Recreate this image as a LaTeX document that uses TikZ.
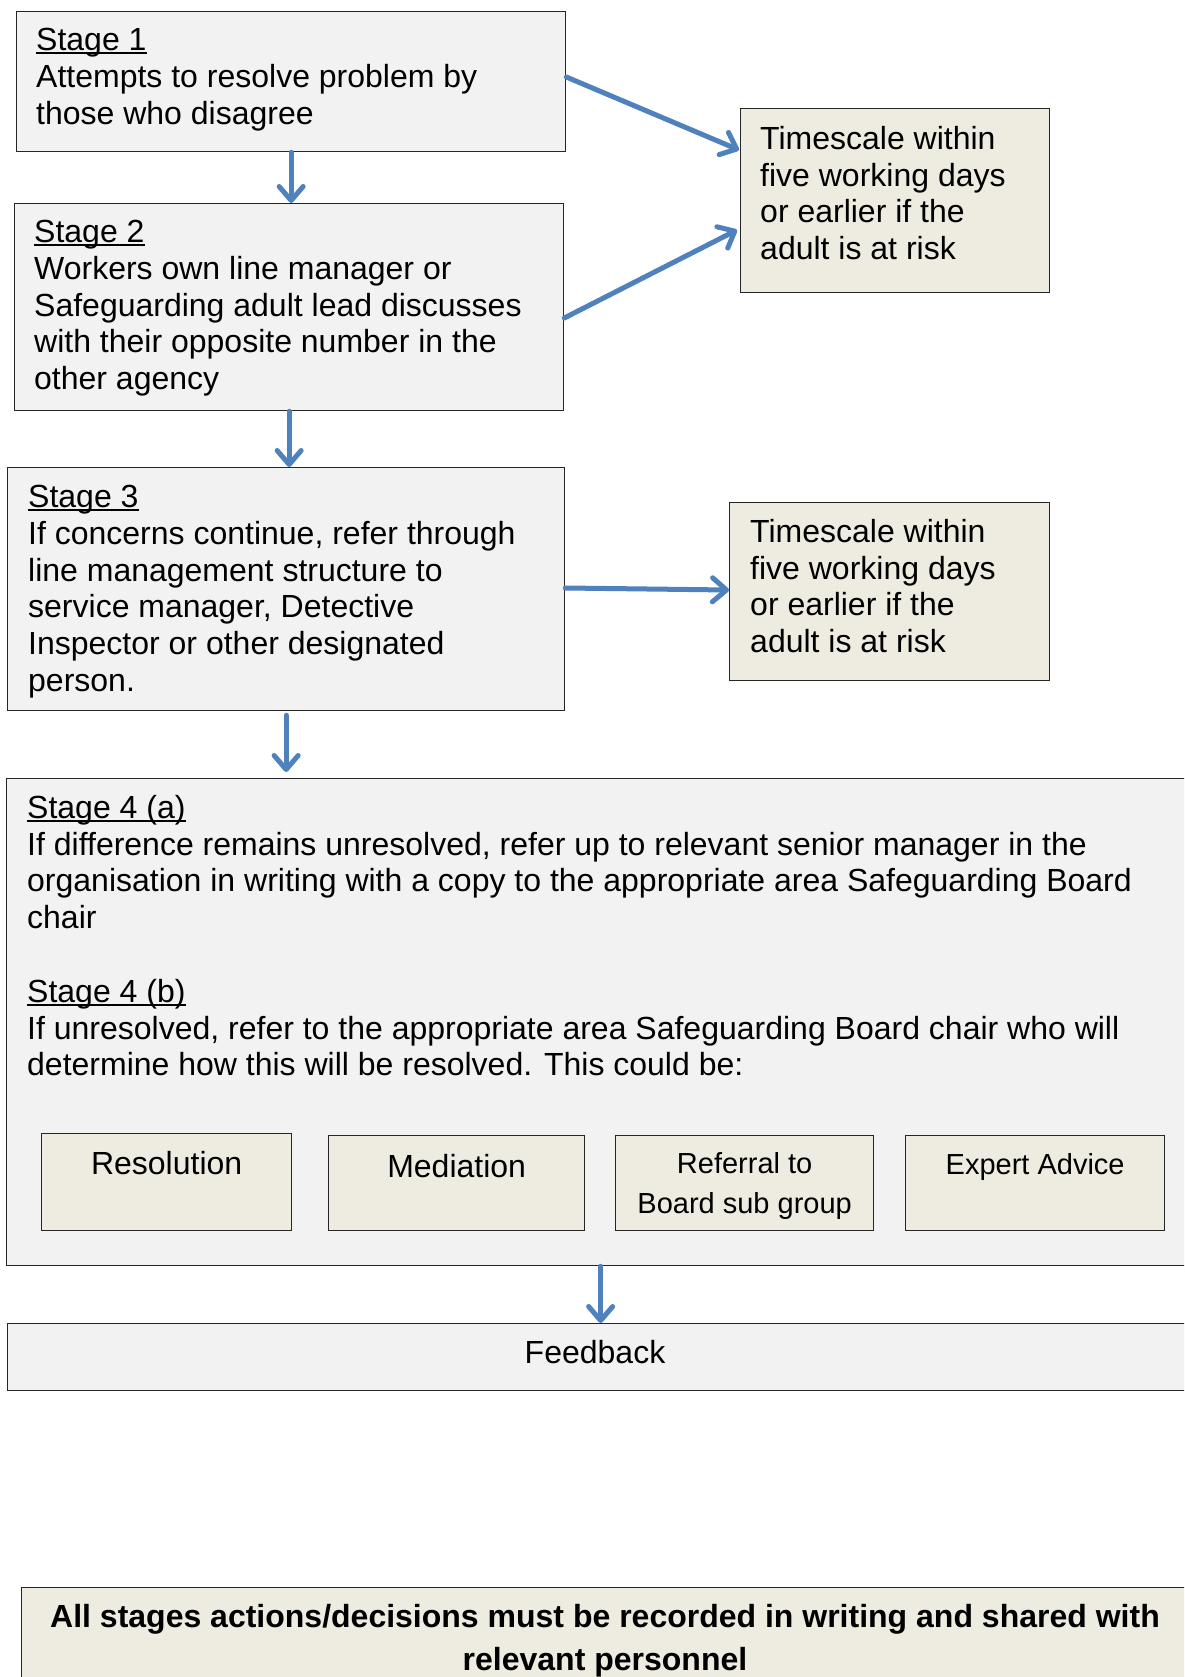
\documentclass[tikz,border=0pt]{standalone}
\usepackage{fontspec}
\setmainfont{Liberation Sans}
\usetikzlibrary{arrows.meta}
\definecolor{boxgray}{HTML}{F2F2F2}
\definecolor{tanfill}{HTML}{EEECE1}
\definecolor{arrblue}{HTML}{4F81BD}
\newcommand\myul[1]{\setbox0=\hbox{#1}\rlap{\rule[-3.5pt]{\wd0}{1.6pt}}#1}
\begin{document}
\begin{tikzpicture}[x=1pt,y=-1pt,
  box/.style={draw=black!85, line width=1.3pt, fill=boxgray, anchor=north west, inner sep=0pt},
  tanbox/.style={box, fill=tanfill},
  txt/.style={anchor=north west, inner sep=0pt, align=left, font=\fontsize{32}{36.8}\selectfont},
  small/.style={inner sep=0pt, align=center, font=\fontsize{29}{40}\selectfont},
  mid/.style={inner sep=0pt, align=center, font=\fontsize{32}{36.8}\selectfont},
  arr/.style={draw=arrblue, line width=5pt, line cap=round, -{Straight Barb[length=14pt,width=24pt,round]}},
]
\useasboundingbox (0,0) rectangle (1184,1677);
\clip (0,0) rectangle (1184,1677);
\fill[white] (0,0) rectangle (1184,1677);

% boxes
\node[box, minimum width=549pt, minimum height=140pt] (s1) at (16,11) {};
\node[box, minimum width=549pt, minimum height=207pt] (s2) at (14,203) {};
\node[box, minimum width=557pt, minimum height=243pt] (s3) at (7,467) {};
\node[tanbox, minimum width=309pt, minimum height=184pt] (t1) at (740,108) {};
\node[tanbox, minimum width=320pt, minimum height=178pt] (t2) at (729,502) {};
\node[box, minimum width=1188pt, minimum height=487pt] (s4) at (6,778) {};
\node[tanbox, minimum width=250pt, minimum height=97pt] (r1) at (41,1133) {};
\node[tanbox, minimum width=256pt, minimum height=95pt] (r2) at (328,1135) {};
\node[tanbox, minimum width=258pt, minimum height=95pt] (r3) at (615,1135) {};
\node[tanbox, minimum width=259pt, minimum height=95pt] (r4) at (905,1135) {};
\node[box, minimum width=1186pt, minimum height=67pt] (fb) at (7,1323) {};
\node[tanbox, minimum width=1168pt, minimum height=120pt] (note) at (21,1587) {};

% texts
\node[txt] (s1t) at (36,28) {\myul{Stage 1}\\Attempts to resolve problem by\\those who disagree};
\node[txt] (s2t) at (34,220) {\myul{Stage 2}\\Workers own line manager or\\Safeguarding adult lead discusses\\with their opposite number in the\\other agency};
\node[txt] (s3t) at (28,485) {\myul{Stage 3}\\If concerns continue, refer through\\line management structure to\\service manager, Detective\\Inspector or other designated\\person.};
\node[txt] (t1t) at (760,126) {Timescale within\\five working days\\or earlier if the\\adult is at risk};
\node[txt] (t2t) at (750,519) {Timescale within\\five working days\\or earlier if the\\adult is at risk};
\node[txt] (s4t) at (27,795) {\myul{Stage 4 (a)}\\If difference remains unresolved, refer up to relevant senior manager in the\\organisation in writing with a copy to the appropriate area Safeguarding Board\\chair\\[36.8pt]\myul{Stage 4 (b)}\\If unresolved, refer to the appropriate area Safeguarding Board chair who will\\determine how this will be resolved. This could be:};
\node[mid, anchor=base] (r1t) at (r1.north |- 0,1174) {Resolution};
\node[mid, anchor=base] (r2t) at (r2.north |- 0,1177) {Mediation};
\node[small, anchor=north] (r3t) at (r3.north |- 0,1152) {Referral to\\Board sub group};
\node[small, anchor=base] (r4t) at (r4.north |- 0,1174) {Expert Advice};
\node[anchor=base, inner sep=0pt, font=\fontsize{32}{36.8}\selectfont] (fbt) at (595,1363) {Feedback};
\node[anchor=north, inner sep=0pt, align=center, font=\fontsize{32}{43}\selectfont\bfseries] (nt) at (605,1604) {All stages actions/decisions must be recorded in writing and shared with\\relevant personnel};

% connectors
\draw[arr] (s1.south) -- (s1.south |- s2.north);
\draw[arr] (s2.south) -- (s2.south |- s3.north);
\draw[arr, shorten <=4pt, shorten >=6pt] (s3.south) -- (s3.south |- s4.north);
\draw[arr] (s4.south) -- (s4.south |- fb.north);
\draw[arr] ([yshift=-66pt]s1.north east) -- ([xshift=-1pt,yshift=-42pt]t1.north west);
\draw[arr] ([yshift=-115pt]s2.north east) -- ([xshift=-3pt,yshift=-122pt]t1.north west);
\draw[arr] ([yshift=-121pt]s3.north east) -- ([yshift=-88pt]t2.north west);
\end{tikzpicture}
\end{document}
